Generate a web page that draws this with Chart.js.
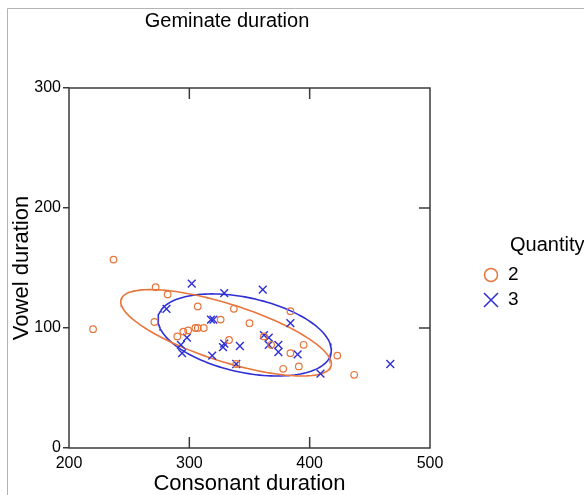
<!DOCTYPE html>
<html><head><meta charset="utf-8">
<script src="https://cdn.jsdelivr.net/npm/chart.js@4.4.0/dist/chart.umd.min.js"></script>
<style>html,body{margin:0;padding:0;background:#fff;}#wrap{width:584px;height:495px;position:relative;}</style>
</head><body><div id="wrap"><canvas id="c" width="584" height="495"></canvas></div>
<script>
const chartTitle = 'Geminate duration';
const xTitle = 'Consonant duration';
const yTitle = 'Vowel duration';
const legendTitle = 'Quantity';
const seriesNames = ['2', '3'];
const xTicks = [200, 300, 400, 500];
const yTicks = [0, 100, 200, 300];

// Quantity 2 (circles)
const q2Consonant = [237,220,272,282,271,307,290,295,299,305,307,312,326,337,350,333,339,362,368,384,395,384,378,391,423,437];
const q2Vowel     = [157, 99,134,128,105,118, 93, 97, 98,100,100,100,107,116,104, 90, 70, 93, 86,114, 86, 79, 66, 68, 77, 61];
// Quantity 3 (crosses)
const q3Consonant = [302,329,361,281,318,320,298,293,294,319,329,328,342,339,384,362,366,366,374,374,390,409,467];
const q3Vowel     = [137,129,132,116,107,107, 92, 86, 79, 77, 87, 84, 85, 70,104, 94, 92, 86, 86, 80, 78, 62, 70];

// ellipse: centre x, centre y, half-range x, half-range y, phase (deg)
const q2Ellipse = [330.5, 96, 87.5, 36, 136];
const q3Ellipse = [346, 94.2, 72, 34.2, 112];

const orange = '#E8763C';
const blue = '#2F2FD6';
const FONT = "'Liberation Sans', Arial, sans-serif";
Chart.defaults.font.family = FONT;

function ellipsePoints(p) {
  const [cx, cy, rx, ry, ph] = p;
  const phi = ph * Math.PI / 180;
  const pts = [];
  for (let k = 0; k <= 144; k++) {
    const t = 2 * Math.PI * k / 144;
    pts.push({x: cx + rx * Math.cos(t), y: cy + ry * Math.cos(t + phi)});
  }
  return pts;
}
const zip = (xs, ys) => xs.map((x, i) => ({x, y: ys[i]}));

const framePlugin = {
  id: 'frame',
  beforeDraw(chart) {
    const ctx = chart.ctx;
    ctx.save();
    ctx.fillStyle = '#fff';
    ctx.fillRect(0, 0, chart.width, chart.height);
    ctx.strokeStyle = '#b4b4b4';
    ctx.lineWidth = 1;
    ctx.beginPath();
    ctx.moveTo(7.5, 495); ctx.lineTo(7.5, 8.5); ctx.lineTo(584, 8.5);
    ctx.stroke();
    ctx.fillStyle = '#000';
    ctx.font = '20px ' + FONT;
    ctx.textAlign = 'center';
    ctx.textBaseline = 'middle';
    ctx.fillText(chartTitle, 227, 21);
    ctx.restore();
  },
  afterDraw(chart) {
    const ctx = chart.ctx;
    const a = chart.chartArea;
    const xs = chart.scales.x, ys = chart.scales.y;
    ctx.save();
    ctx.strokeStyle = '#3a3a3a';
    ctx.lineWidth = 1.5;
    ctx.strokeRect(a.left, a.top, a.right - a.left, a.bottom - a.top);
    ctx.beginPath();
    xTicks.slice(1, -1).forEach(v => {
      const px = xs.getPixelForValue(v);
      ctx.moveTo(px, a.bottom); ctx.lineTo(px, a.bottom - 11);
      ctx.moveTo(px, a.top); ctx.lineTo(px, a.top + 11);
    });
    yTicks.slice(1, -1).forEach(v => {
      const py = ys.getPixelForValue(v);
      ctx.moveTo(a.right, py); ctx.lineTo(a.right - 11, py);
    });
    ctx.stroke();
    // legend
    ctx.fillStyle = '#000';
    ctx.textAlign = 'left';
    ctx.textBaseline = 'middle';
    ctx.font = '20px ' + FONT;
    ctx.fillText(legendTitle, 510, 245);
    ctx.font = '19px ' + FONT;
    ctx.fillText(seriesNames[0], 508, 275);
    ctx.fillText(seriesNames[1], 508, 300);
    ctx.lineWidth = 1.5;
    ctx.strokeStyle = orange;
    ctx.beginPath(); ctx.arc(491, 275, 6.5, 0, 2 * Math.PI); ctx.stroke();
    ctx.strokeStyle = blue;
    ctx.beginPath();
    ctx.moveTo(484, 293); ctx.lineTo(498, 307);
    ctx.moveTo(498, 293); ctx.lineTo(484, 307);
    ctx.stroke();
    ctx.restore();
  }
};

new Chart(document.getElementById('c'), {
  type: 'scatter',
  data: {
    datasets: [
      {label: seriesNames[0], data: zip(q2Consonant, q2Vowel), pointStyle: 'circle', pointRadius: 3.3,
       borderColor: orange, backgroundColor: 'rgba(0,0,0,0)', borderWidth: 1.2, pointBorderWidth: 1.2},
      {label: seriesNames[1], data: zip(q3Consonant, q3Vowel), pointStyle: 'crossRot', pointRadius: 5.5,
       borderColor: blue, backgroundColor: blue, borderWidth: 1.4, pointBorderWidth: 1.4},
      {label: 'e2', type: 'line', data: ellipsePoints(q2Ellipse), borderColor: orange, borderWidth: 1.6,
       pointRadius: 0, fill: false, tension: 0},
      {label: 'e3', type: 'line', data: ellipsePoints(q3Ellipse), borderColor: blue, borderWidth: 1.6,
       pointRadius: 0, fill: false, tension: 0}
    ]
  },
  options: {
    responsive: false, animation: false, devicePixelRatio: 1,
    layout: {padding: {top: 88, right: 154, bottom: 0, left: 0}},
    plugins: {legend: {display: false}, tooltip: {enabled: false}, title: {display: false}},
    scales: {
      x: {type: 'linear', min: 200, max: 500,
        afterBuildTicks: s => { s.ticks = xTicks.map(v => ({value: v})); },
        afterFit: s => { s.height = 47; },
        grid: {display: false, drawTicks: false}, border: {display: false},
        ticks: {color: '#000', font: {size: 16}, padding: 6, maxRotation: 0, autoSkip: false},
        title: {display: true, text: xTitle, color: '#000', font: {size: 22, lineHeight: 1}, padding: {top: 0, bottom: 0}}},
      y: {type: 'linear', min: 0, max: 300,
        afterBuildTicks: s => { s.ticks = yTicks.map(v => ({value: v})); },
        afterFit: s => { s.width = 69; },
        grid: {display: true, drawOnChartArea: false, drawTicks: true, tickLength: 6, color: '#3a3a3a', lineWidth: 1.5},
        border: {display: false},
        ticks: {color: '#000', font: {size: 16}, padding: 2, autoSkip: false},
        title: {display: true, text: yTitle, color: '#000', font: {size: 22, lineHeight: 1}, padding: {top: 11, bottom: 0}}}
    }
  },
  plugins: [framePlugin]
});
</script></body></html>
